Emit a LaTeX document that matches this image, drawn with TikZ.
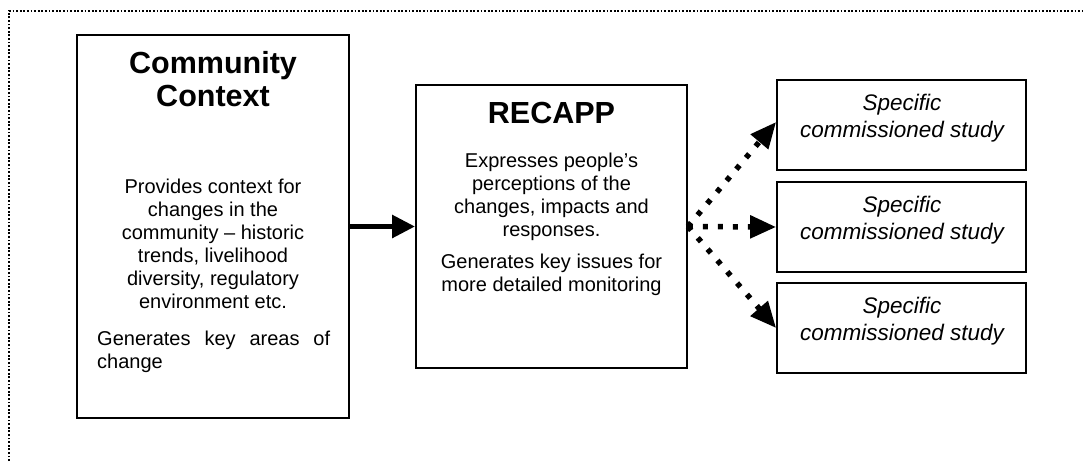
\documentclass[tikz,border=0pt]{standalone}
\usepackage{fontspec}
\setmainfont{Liberation Sans}
\usetikzlibrary{arrows.meta}
\begin{document}
\begin{tikzpicture}[x=1pt,y=-1pt,
  box/.style={draw=black, line width=1.8pt, fill=white, inner sep=0pt},
  title/.style={font=\fontsize{30.5}{33}\selectfont\bfseries, inner sep=0pt, anchor=base, align=center},
  body/.style={font=\fontsize{20}{23}\selectfont, inner sep=0pt, anchor=base, align=center},
  bodyjust/.style={font=\fontsize{20}{23}\selectfont, inner sep=0pt, anchor=base west, text width=233pt, align=justify},
  study/.style={font=\fontsize{22.5}{27}\selectfont\itshape, inner sep=0pt, anchor=base, align=center},
  flow/.style={line width=5.5pt, -{Triangle[length=23pt,width=22pt]}},
  spread/.style={line width=5.5pt, dash pattern=on 5pt off 10pt, -{Triangle[length=26pt,width=22pt]}},
  frame/.style={line width=1.6pt, dash pattern=on 1.8pt off 1.8pt}
]
\useasboundingbox (0,0) rectangle (1083,461);

% open dotted frame along the top and left
\coordinate (fl) at (9,461);
\coordinate (fc) at (9,11);
\coordinate (fr) at (1083,11);
\draw[frame] (fl) -- (fc) -- (fr);

% boxes
\node[box, minimum width=272pt, minimum height=383pt] (cc) at (213,226.5) {};
\node[box, minimum width=271pt, minimum height=283pt] (rc) at (551.5,226.5) {};
\node[box, minimum width=249pt, minimum height=90pt] (s1) at (901.5,125) {};
\node[box, minimum width=249pt, minimum height=90pt] (s2) at (901.5,227) {};
\node[box, minimum width=249pt, minimum height=90pt] (s3) at (901.5,328) {};

% community context text (multi-line nodes sit on their last baseline)
\node[title] (cct) at (213,106) {Community\\Context};
\node[body] (ccb) at (213,308) {Provides context for\\changes in the\\community – historic\\trends, livelihood\\diversity, regulatory\\environment etc.};
\node[bodyjust] (ccg) at (97,345) {\tolerance=10000 Generates key areas of change};

% RECAPP text
\node[title] (rct) at (551.5,123) {RECAPP};
\node[body] (rcb) at (551.5,236) {Expresses people’s\\perceptions of the\\changes, impacts and\\responses.};
\node[body] (rcg) at (551.5,291) {Generates key issues for\\more detailed monitoring};

% studies
\node[study] (s1t) at (902,137) {Specific\\commissioned study};
\node[study] (s2t) at (902,239) {Specific\\commissioned study};
\node[study] (s3t) at (902,340) {Specific\\commissioned study};

% connectors
\draw[flow] (cc.east) -- (rc.west);
\draw[spread] (rc.east) -- ([yshift=3pt]s1.west);
\draw[spread] (rc.east) -- (s2.west);
\draw[spread] (rc.east) -- (s3.west);
\end{tikzpicture}
\end{document}
